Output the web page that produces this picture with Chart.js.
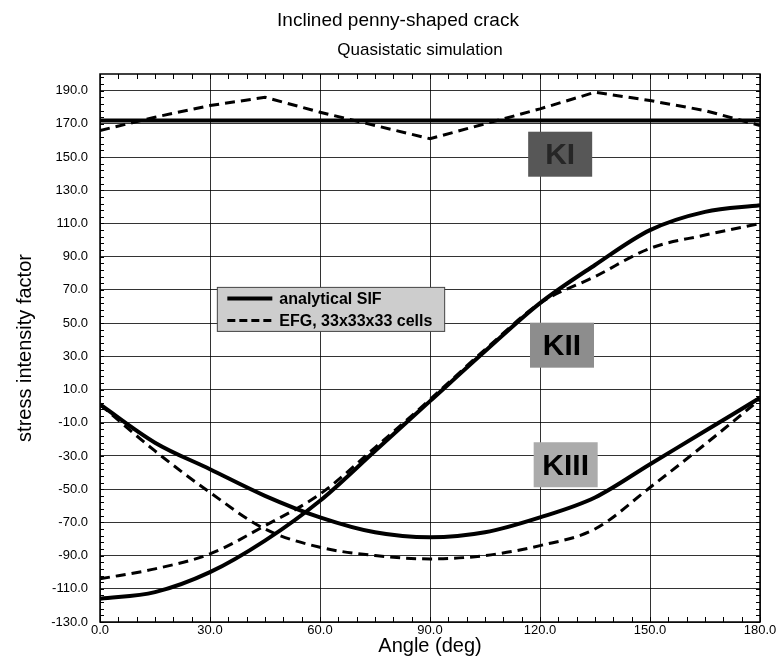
<!DOCTYPE html>
<html>
<head>
<meta charset="utf-8">
<script src="https://cdn.jsdelivr.net/npm/chart.js@4"></script>
<style>
  body { margin: 0; background: #fff; }
  canvas { display: block; }
</style>
</head>
<body>
<canvas id="sifChart" width="781" height="660"></canvas>
<script>
var angles = [0, 15, 30, 45, 60, 75, 90, 105, 120, 135, 150, 165, 180];

// analytical SIF
var kiExact   = [172, 172, 172, 172, 172, 172, 172, 172, 172, 172, 172, 172, 172];
var kiiExact  = [-116, -112, -100, -81, -57, -27, 3, 33, 62, 85, 106, 117, 121];
var kiiiExact = [1, -22, -38, -54, -67, -76, -79, -76, -67, -55, -35, -15, 5];

// EFG, 33x33x33 cells
var kiEfg   = [166, 174, 181, 186, 177, 169, 161, 170, 179, 189, 184, 178, 169];
var kiiEfg  = [-104, -98, -89, -72, -53, -25, 4, 34, 62, 78, 95, 103, 110];
var kiiiEfg = [1, -27, -52, -74, -85, -90, -92, -90, -84, -74, -49, -23, 4];

var xTicks = [0, 30, 60, 90, 120, 150, 180];
var yTicks = [-130, -110, -90, -70, -50, -30, -10, 10, 30, 50, 70, 90, 110, 130, 150, 170, 190];

var titleText = 'Inclined penny-shaped crack';
var subtitleText = 'Quasistatic simulation';
var legendLabels = ['analytical SIF', 'EFG, 33x33x33 cells'];
var modeLabels = ['KI', 'KII', 'KIII'];

var FONT = "'Liberation Sans', Arial, Helvetica, sans-serif";

function pts(ys) {
    return angles.map(function(a, i) { return {x: a, y: ys[i]}; });
}

function solid(ys) {
    return {
        data: pts(ys),
        borderColor: '#000',
        borderWidth: 4,
        pointRadius: 0,
        cubicInterpolationMode: 'monotone',
        fill: false
    };
}

function dashed(ys, smooth) {
    return {
        data: pts(ys),
        borderColor: '#000',
        borderWidth: 3,
        borderDash: [10, 6],
        pointRadius: 0,
        cubicInterpolationMode: smooth ? 'monotone' : 'default',
        tension: 0,
        fill: false
    };
}

// titles sit a little right of centre in the original, so they are drawn here
var titlePlugin = {
    id: 'titles',
    afterDraw: function(chart) {
        var ctx = chart.ctx;
        ctx.save();
        ctx.fillStyle = '#000';
        ctx.textAlign = 'center';
        ctx.textBaseline = 'middle';
        ctx.font = '19px ' + FONT;
        ctx.fillText(titleText, 398, 21);
        ctx.font = '17px ' + FONT;
        ctx.fillText(subtitleText, 420, 50);
        ctx.restore();
    }
};

// frame, minor ticks, legend box and the KI/KII/KIII tags
var decorPlugin = {
    id: 'decor',
    afterDatasetsDraw: function(chart) {
        var ctx = chart.ctx;
        var area = chart.chartArea;
        var xs = chart.scales.x, ys = chart.scales.y;
        ctx.save();

        // frame
        ctx.strokeStyle = '#000';
        ctx.lineWidth = 1.5;
        ctx.strokeRect(area.left, area.top, area.right - area.left, area.bottom - area.top);

        // minor ticks
        ctx.lineWidth = 1;
        ctx.beginPath();
        for (var a = xs.min; a <= xs.max; a += 5) {
            var px = Math.round(xs.getPixelForValue(a)) + 0.5;
            ctx.moveTo(px, area.bottom); ctx.lineTo(px, area.bottom - 5);
            ctx.moveTo(px, area.top); ctx.lineTo(px, area.top + 5);
        }
        for (var v = ys.min; v <= ys.max; v += 4) {
            var py = Math.round(ys.getPixelForValue(v)) + 0.5;
            ctx.moveTo(area.left, py); ctx.lineTo(area.left + 4, py);
            ctx.moveTo(area.right, py); ctx.lineTo(area.right - 4, py);
        }
        ctx.stroke();

        // legend
        var lx0 = xs.getPixelForValue(32), lx1 = xs.getPixelForValue(94);
        var ly0 = ys.getPixelForValue(71.5), ly1 = ys.getPixelForValue(45);
        ctx.fillStyle = '#cdcdcd';
        ctx.fillRect(lx0, ly0, lx1 - lx0, ly1 - ly0);
        ctx.strokeStyle = '#444';
        ctx.lineWidth = 1;
        ctx.strokeRect(lx0, ly0, lx1 - lx0, ly1 - ly0);
        var rowH = (ly1 - ly0) / 2;
        ctx.font = 'bold 16px ' + FONT;
        ctx.textBaseline = 'middle';
        ctx.textAlign = 'left';
        for (var i = 0; i < legendLabels.length; i++) {
            var cy = ly0 + rowH * (i + 0.5);
            ctx.strokeStyle = '#000';
            ctx.lineWidth = i === 0 ? 4 : 3;
            ctx.setLineDash(i === 0 ? [] : [8, 4]);
            ctx.beginPath();
            ctx.moveTo(lx0 + 10, cy);
            ctx.lineTo(lx0 + 55, cy);
            ctx.stroke();
            ctx.setLineDash([]);
            ctx.fillStyle = '#000';
            ctx.fillText(legendLabels[i], lx0 + 62, cy + 1);
        }

        // mode tags
        var tagPos = [[125.5, 152], [126, 37], [127, -35]];
        var tagFill = ['#575757', '#8d8d8d', '#ababab'];
        ctx.font = 'bold 30px ' + FONT;
        ctx.textAlign = 'center';
        for (var k = 0; k < modeLabels.length; k++) {
            var tx = xs.getPixelForValue(tagPos[k][0]);
            var ty = ys.getPixelForValue(tagPos[k][1]);
            ctx.fillStyle = tagFill[k];
            ctx.fillRect(tx - 32, ty - 22, 64, 45);
            ctx.fillStyle = k === 0 ? '#262626' : '#000';
            ctx.fillText(modeLabels[k], tx, ty + 2);
        }
        ctx.restore();
    }
};

var ctx = document.getElementById('sifChart').getContext('2d');
var sifChart = new Chart(ctx, {
    type: 'line',
    data: {
        datasets: [
            solid(kiExact),
            solid(kiiExact),
            solid(kiiiExact),
            dashed(kiEfg, false),
            dashed(kiiEfg, true),
            dashed(kiiiEfg, true)
        ]
    },
    plugins: [decorPlugin, titlePlugin],
    options: {
        responsive: false,
        devicePixelRatio: 1,
        animation: false,
        layout: { padding: { left: 0, right: 21, top: 74, bottom: 0 } },
        plugins: {
            legend: { display: false },
            tooltip: { enabled: false },
            title: { display: false },
            subtitle: { display: false }
        },
        scales: {
            x: {
                type: 'linear',
                min: 0,
                max: 180,
                afterBuildTicks: function(scale) {
                    scale.ticks = xTicks.map(function(v) { return {value: v}; });
                },
                afterFit: function(scale) {
                    scale.height = 38;
                    scale.paddingLeft = 0;
                    scale.paddingRight = 0;
                },
                grid: { color: 'rgba(0,0,0,0.8)', lineWidth: 1, drawTicks: false },
                border: { display: false },
                ticks: {
                    padding: 1,
                    color: '#000',
                    font: { family: FONT, size: 13 },
                    maxRotation: 0,
                    callback: function(v) { return Number(v).toFixed(1); }
                },
                title: {
                    display: true,
                    text: 'Angle (deg)',
                    color: '#000',
                    font: { family: FONT, size: 20 },
                    padding: { top: 0, bottom: 2 }
                }
            },
            y: {
                type: 'linear',
                min: -130,
                max: 200,
                afterBuildTicks: function(scale) {
                    scale.ticks = yTicks.map(function(v) { return {value: v}; });
                },
                afterFit: function(scale) {
                    scale.width = 100;
                    scale.paddingTop = 0;
                    scale.paddingBottom = 0;
                },
                grid: { color: 'rgba(0,0,0,0.8)', lineWidth: 1, drawTicks: false },
                border: { display: false },
                ticks: {
                    padding: 12,
                    color: '#000',
                    font: { family: FONT, size: 13 },
                    callback: function(v) { return Number(v).toFixed(1); }
                },
                title: {
                    display: true,
                    text: 'stress intensity factor',
                    color: '#000',
                    font: { family: FONT, size: 20 },
                    padding: { top: 13, bottom: 0 }
                }
            }
        }
    }
});
</script>
</body>
</html>
